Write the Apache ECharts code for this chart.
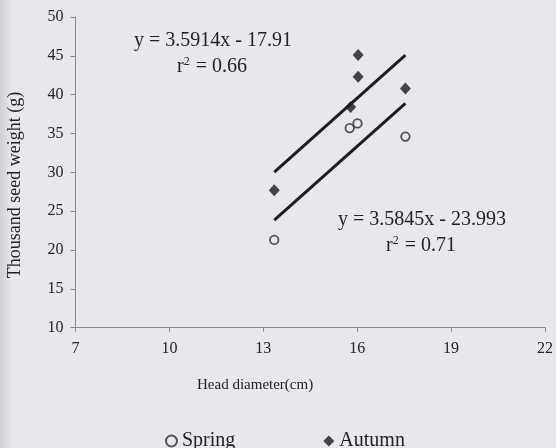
<!DOCTYPE html>
<html>
<head>
<meta charset="utf-8">
<script src="https://cdn.jsdelivr.net/npm/echarts@6/dist/echarts.min.js"></script>
<style>
  html, body { margin: 0; padding: 0; background: #e8e8ec; }
  #chart { width: 556px; height: 448px; }
</style>
</head>
<body>
<div id="chart"></div>
<script>
// Head diameter (cm) vs thousand seed weight (g)
const springX = [13.35, 15.76, 16.01, 17.54];
const springY = [21.3, 35.7, 36.3, 34.6];
const autumnX = [13.35, 15.79, 16.03, 16.03, 17.54];
const autumnY = [27.7, 38.4, 42.3, 45.1, 40.8];

// Fitted trend lines (slope, intercept, r²) as printed on the chart
const springFit = { slope: 3.5845, intercept: -23.993, r2: '0.71' };
const autumnFit = { slope: 3.5914, intercept: -17.91, r2: '0.66' };

const xTicks = [7, 10, 13, 16, 19, 22];
const yTicks = [10, 15, 20, 25, 30, 35, 40, 45, 50];

const FONT = 'Liberation Serif';
const INK = '#222222';

function pairs(xs, ys) { return xs.map((x, i) => [x, ys[i]]); }
function fitLine(fit, xs) {
  const lo = Math.min(...xs), hi = Math.max(...xs);
  return [lo, hi].map(x => [x, fit.slope * x + fit.intercept]);
}
function eqText(fit) {
  const sign = fit.intercept < 0 ? '-' : '+';
  return 'y = ' + fit.slope + 'x ' + sign + ' ' + Math.abs(fit.intercept);
}

const chart = echarts.init(document.getElementById('chart'));

const rich = {
  base: { fontSize: 20, fontFamily: FONT, fill: INK, lineHeight: 22 },
  sup: { fontSize: 12, fontFamily: FONT, fill: INK, lineHeight: 12, padding: [0, 1, 10, 0] }
};

chart.setOption({
  backgroundColor: '#e8e8ec',
  animation: false,
  grid: { left: 75.5, right: 9, top: 17, bottom: 120.3 },
  xAxis: {
    type: 'value', min: xTicks[0], max: xTicks[xTicks.length - 1], interval: 3,
    splitLine: { show: false },
    axisLine: { lineStyle: { color: '#8a8a8e', width: 1 } },
    axisTick: { length: 4, lineStyle: { color: '#8a8a8e' } },
    axisLabel: { color: INK, fontFamily: FONT, fontSize: 16, margin: 13 }
  },
  yAxis: {
    type: 'value', min: yTicks[0], max: yTicks[yTicks.length - 1], interval: 5,
    splitLine: { show: false },
    axisLine: { show: true, lineStyle: { color: '#8a8a8e', width: 1 } },
    axisTick: { show: true, length: 5, lineStyle: { color: '#8a8a8e' } },
    axisLabel: { color: INK, fontFamily: FONT, fontSize: 16, margin: 12 }
  },
  legend: {
    data: ['Spring', 'Autumn'],
    left: 160, top: 426,
    itemGap: 88, itemWidth: 11, itemHeight: 11,
    textStyle: { color: INK, fontFamily: FONT, fontSize: 20 }
  },
  graphic: [
    { type: 'rect', left: 0, top: 0, z: -1,
      shape: { width: 12, height: 448 },
      style: { fill: new echarts.graphic.LinearGradient(0, 0, 1, 0, [
        { offset: 0, color: 'rgba(200,203,208,0.8)' }, { offset: 1, color: 'rgba(200,203,208,0)' }]) } },
    { type: 'text', left: 197, top: 378,
      style: { text: 'Head diameter(cm)', fill: INK, font: '15px "' + FONT + '"' } },
    { type: 'text', rotation: Math.PI / 2, x: 15, y: 185,
      style: { text: 'Thousand seed weight (g)', fill: INK, font: '18px "' + FONT + '"', align: 'center', verticalAlign: 'middle' } },
    { type: 'text', x: 213, y: 41,
      style: { text: eqText(autumnFit), fill: INK, font: '20px "' + FONT + '"', align: 'center', verticalAlign: 'middle' } },
    { type: 'text', x: 212, y: 67,
      style: { text: '{base|r}{sup|2}{base| = ' + autumnFit.r2 + '}', rich: rich, align: 'center', verticalAlign: 'middle' } },
    { type: 'text', x: 422, y: 220,
      style: { text: eqText(springFit), fill: INK, font: '20px "' + FONT + '"', align: 'center', verticalAlign: 'middle' } },
    { type: 'text', x: 421, y: 246,
      style: { text: '{base|r}{sup|2}{base| = ' + springFit.r2 + '}', rich: rich, align: 'center', verticalAlign: 'middle' } }
  ],
  series: [
    {
      name: 'Autumn fit', type: 'line', data: fitLine(autumnFit, autumnX),
      symbol: 'none', lineStyle: { color: '#1e1e1e', width: 3 }, z: 2
    },
    {
      name: 'Spring fit', type: 'line', data: fitLine(springFit, springX),
      symbol: 'none', lineStyle: { color: '#1e1e1e', width: 3 }, z: 2
    },
    {
      name: 'Spring', type: 'scatter', data: pairs(springX, springY),
      symbol: 'circle', symbolSize: 8.5,
      itemStyle: { color: 'rgba(0,0,0,0)', borderColor: '#2a2a2a', borderWidth: 1.8 }, z: 3
    },
    {
      name: 'Autumn', type: 'scatter', data: pairs(autumnX, autumnY),
      symbol: 'diamond', symbolSize: [11, 12],
      itemStyle: { color: '#1a1a1a' }, z: 3
    }
  ]
});
</script>
</body>
</html>
